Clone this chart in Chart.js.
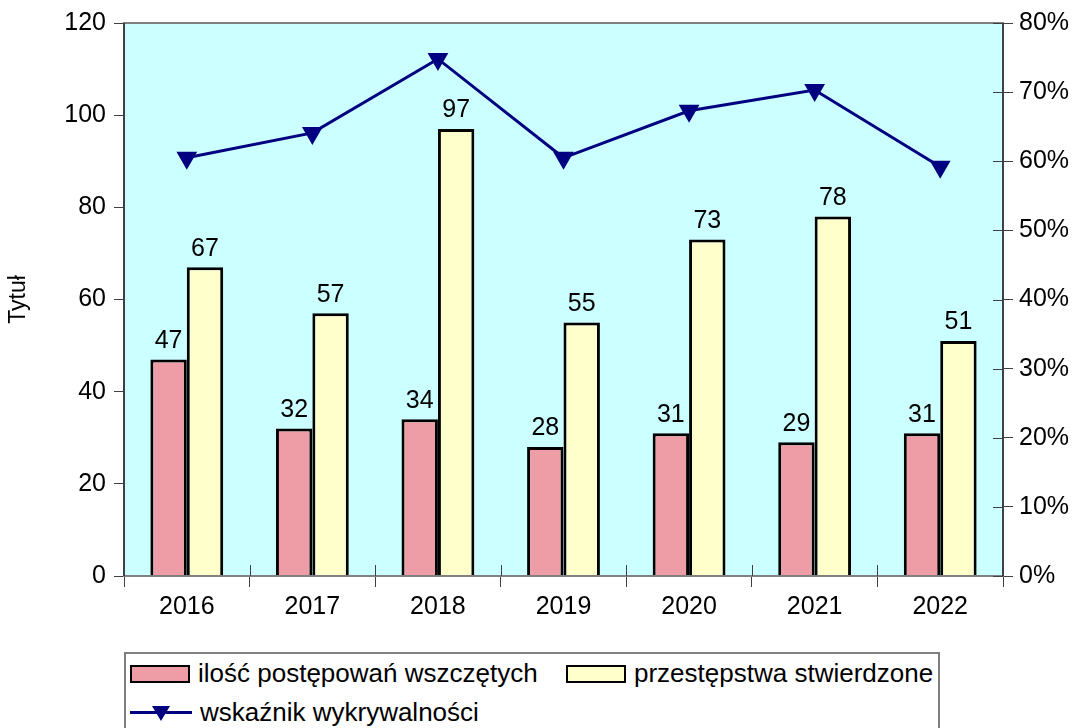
<!DOCTYPE html>
<html>
<head>
<meta charset="utf-8">
<script src="https://cdn.jsdelivr.net/npm/chart.js@4.4.0/dist/chart.umd.min.js"></script>
<style>
  body { margin: 0; background: #fff; font-family: "Liberation Sans", Arial, sans-serif; }
  #wrap { position: relative; width: 1084px; height: 728px; overflow: hidden; }
  #legend {
    position: absolute; left: 124px; top: 652px; width: 816px; height: 90px;
    border: 2px solid #808080; box-sizing: border-box; background: #fff;
    font-size: 26px; color: #000;
  }
  .item { position: absolute; display: flex; align-items: center; white-space: nowrap; }
  .box { width: 60px; height: 18px; border: 2px solid #000; box-sizing: border-box; margin-right: 8px; }
  .lineKey { position: relative; width: 62px; height: 20px; margin-right: 8px; }
  .lineKey:before { content: ""; position: absolute; left: 0; right: 0; top: 8px; height: 3px; background: #000080; }
  .lineKey:after { content: ""; position: absolute; left: 22px; top: 3px; border-left: 9px solid transparent; border-right: 9px solid transparent; border-top: 15px solid #000080; }
</style>
</head>
<body>
<div id="wrap">
  <canvas id="chart" width="1084" height="728"></canvas>
  <div id="legend"></div>
</div>
<script>
// chart data
const years = ["2016", "2017", "2018", "2019", "2020", "2021", "2022"];
const wszczete = [47, 32, 34, 28, 31, 29, 31];
const stwierdzone = [67, 57, 97, 55, 73, 78, 51];
const wykrywalnosc = [60.5, 64.1, 74.8, 60.5, 67.3, 70.3, 59.2];

const seriesNames = ["ilość postępowań wszczętych", "przestępstwa stwierdzone", "wskaźnik wykrywalności"];
const pink = "#ee9ca5";
const yellow = "#ffffcc";
const navy = "#000080";
const font = "Liberation Sans";

// plot background + border
const areaPlugin = {
  id: "area",
  beforeDraw(chart) {
    const a = chart.chartArea, ctx = chart.ctx;
    ctx.save();
    ctx.fillStyle = "#ccffff";
    ctx.fillRect(a.left, a.top, a.right - a.left, a.bottom - a.top);
    ctx.restore();
  },
  afterDraw(chart) {
    const a = chart.chartArea, ctx = chart.ctx;
    ctx.save();
    ctx.strokeStyle = "#808080";
    ctx.lineWidth = 2;
    ctx.strokeRect(a.left, a.top, a.right - a.left, a.bottom - a.top);
    ctx.strokeStyle = "#404040";
    ctx.beginPath();
    ctx.moveTo(a.left, a.top); ctx.lineTo(a.left, a.bottom);
    ctx.moveTo(a.right, a.top); ctx.lineTo(a.right, a.bottom);
    ctx.stroke();
    // inner tick halves on x and right axis
    ctx.strokeStyle = "#404040";
    ctx.lineWidth = 1;
    ctx.beginPath();
    const x = chart.scales.x;
    for (let i = 1; i < years.length; i++) {
      const px = Math.round(x.getPixelForValue(i - 0.5)) + 0.5;
      ctx.moveTo(px, a.bottom); ctx.lineTo(px, a.bottom - 11);
    }
    const y1 = chart.scales.y1;
    y1.ticks.forEach(t => {
      const py = Math.round(y1.getPixelForValue(t.value)) + 0.5;
      ctx.moveTo(a.right, py); ctx.lineTo(a.right - 10, py);
    });
    ctx.stroke();
    ctx.restore();
  }
};

// value labels above bars
const labelPlugin = {
  id: "barLabels",
  afterDatasetsDraw(chart) {
    const ctx = chart.ctx;
    ctx.save();
    ctx.font = "25px '" + font + "'";
    ctx.fillStyle = "#000";
    ctx.textAlign = "center";
    ctx.textBaseline = "bottom";
    [0, 1].forEach(di => {
      const meta = chart.getDatasetMeta(di);
      meta.data.forEach((bar, i) => {
        ctx.fillText(chart.data.datasets[di].data[i], bar.x, bar.y - 6);
      });
    });
    ctx.restore();
  }
};

new Chart(document.getElementById("chart"), {
  type: "bar",
  data: {
    labels: years,
    datasets: [
      {
        label: seriesNames[0],
        data: wszczete,
        backgroundColor: pink,
        borderColor: "#000",
        borderWidth: 3,
        yAxisID: "y",
        order: 1,
        categoryPercentage: 0.58,
        barPercentage: 1.0
      },
      {
        label: seriesNames[1],
        data: stwierdzone,
        backgroundColor: yellow,
        borderColor: "#000",
        borderWidth: 3,
        yAxisID: "y",
        order: 1,
        categoryPercentage: 0.58,
        barPercentage: 1.0
      },
      {
        type: "line",
        label: seriesNames[2],
        data: wykrywalnosc,
        borderColor: navy,
        backgroundColor: navy,
        borderWidth: 3,
        pointStyle: "triangle",
        rotation: 180,
        pointRadius: 12,
        pointBorderWidth: 0,
        tension: 0,
        yAxisID: "y1",
        order: 0
      }
    ]
  },
  options: {
    responsive: false,
    animation: false,
    layout: { padding: { top: 23, left: 0, right: 0, bottom: 0 } },
    plugins: {
      legend: { display: false },
      tooltip: { enabled: false }
    },
    scales: {
      x: {
        grid: { offset: true, drawOnChartArea: false, drawTicks: true, tickLength: 11, color: "#404040" },
        border: { display: false },
        ticks: { font: { family: font, size: 25 }, color: "#000", padding: 5 },
        afterFit(s) { s.height = 152; }
      },
      y: {
        position: "left",
        min: 0, max: 120,
        ticks: { stepSize: 20, font: { family: font, size: 25 }, color: "#000", padding: 8 },
        grid: { drawOnChartArea: false, tickLength: 10, color: "#404040" },
        border: { display: false },
        title: { display: true, text: "Tytuł", font: { family: font, size: 23 }, color: "#000", padding: { top: 5 } },
        afterFit(s) { s.width = 124; }
      },
      y1: {
        position: "right",
        min: 0, max: 80,
        ticks: { stepSize: 10, font: { family: font, size: 25 }, color: "#000", padding: 6, callback: v => v + "%" },
        grid: { drawOnChartArea: false, tickLength: 10, color: "#404040" },
        border: { display: false },
        afterFit(s) { s.width = 81; }
      }
    }
  },
  plugins: [areaPlugin, labelPlugin]
});

// legend
const legend = document.getElementById("legend");
legend.innerHTML =
  '<div class="item" style="left:4px;top:4px"><span class="box" style="background:' + pink + '"></span>' + seriesNames[0] + '</div>' +
  '<div class="item" style="left:440px;top:4px"><span class="box" style="background:' + yellow + '"></span>' + seriesNames[1] + '</div>' +
  '<div class="item" style="left:4px;top:43px"><span class="lineKey"></span>' + seriesNames[2] + '</div>';
</script>
</body>
</html>
